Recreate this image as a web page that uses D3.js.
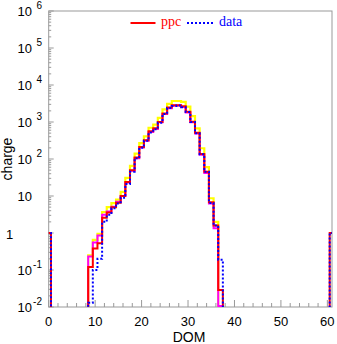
<!DOCTYPE html>
<html><head><meta charset="utf-8">
<script src="https://cdn.jsdelivr.net/npm/d3@7"></script>
<style>
html,body{margin:0;padding:0;background:#fff;}
svg{display:block;}
</style></head>
<body>
<script>
// DOM bins 0..61 (value 0 = empty bin)
const dom = d3.range(0, 62);
const ppc = [1,0,0,0,0,0,0,0,0,0.12,0.38,0.53,2.6,3.6,5.0,6.6,10,24,50,110,210,320,560,680,1000,1700,2450,2850,2850,2650,1900,1020,510,137,45,6.8,1.6,0.029,0,0,0,0,0,0,0,0,0,0,0,0,0,0,0,0,0,0,0,0,0,0,0,1];
const ppcHigh = [0,0,0,0,0,0,0,0,0,0.25,0.65,0.95,3.7,5.0,6.4,8.0,13,31,65,140,270,410,700,850,1300,2200,3100,3700,3700,3500,2600,1450,675,195,60,8.7,2.0,0,0,0,0,0,0,0,0,0,0,0,0,0,0,0,0,0,0,0,0,0,0,0,0,0];
const ppcMid = [0,0,0,0,0,0,0,0,0,0.23,0.55,0.85,3.1,3.8,5.1,7.0,10,23,48,105,205,310,540,650,980,1650,2350,2750,2800,2550,1800,980,490,130,42,6.3,1.35,0.0107,0,0,0,0,0,0,0,0,0,0,0,0,0,0,0,0,0,0,0,0,0,0,0,0];
const data = [1,0,0,0,0,0,0,0,0,0.013,0.1,0.2,2.0,3.1,4.7,6.3,9,21,45,105,200,310,520,640,950,1650,2400,2700,2800,2500,1850,1000,500,135,45,6.5,1.6,0.19,0,0,0,0,0,0,0,0,0,0,0,0,0,0,0,0,0,0,0,0,0,0,0,1];
const xTicks = [0,10,20,30,40,50,60];
const yExps = [-2,-1,0,1,2,3,4,5,6];
const legendLabels = ["ppc","data"];

const W=337,H=344;
const L=48.7,R=332,T=11,B=307;
const svg=d3.select("body").append("svg").attr("width",W).attr("height",H);
const x=d3.scaleLinear().domain([0,61]).range([L,R]);
const y=d3.scaleLog().domain([1e-2,1e6]).range([B,T]);
const axisCol="#999";

svg.append("clipPath").attr("id","c").append("rect").attr("x",L).attr("y",T).attr("width",R-L).attr("height",B-T);

// frame
svg.append("rect").attr("x",L).attr("y",T).attr("width",R-L).attr("height",B-T).attr("fill","none").attr("stroke",axisCol).attr("stroke-width",1);

// y ticks
const yMinor=[];
for(let e=-2;e<6;e++){for(let k=2;k<=9;k++){yMinor.push(k*Math.pow(10,e));}}
svg.append("g").selectAll("line.ym").data(yMinor).join("line")
 .attr("x1",L).attr("x2",L+2.5).attr("y1",d=>y(d)).attr("y2",d=>y(d)).attr("stroke",axisCol);
svg.append("g").selectAll("line.yM").data(yExps).join("line")
 .attr("x1",L).attr("x2",L+5).attr("y1",d=>y(Math.pow(10,d))).attr("y2",d=>y(Math.pow(10,d))).attr("stroke",axisCol);

// x ticks
const xMinor=d3.range(0,61,2).filter(v=>v%10!==0);
svg.append("g").selectAll("line").data(xMinor).join("line")
 .attr("x1",d=>x(d)).attr("x2",d=>x(d)).attr("y1",B).attr("y2",B-4).attr("stroke",axisCol);
svg.append("g").selectAll("line").data(xTicks).join("line")
 .attr("x1",d=>x(d)).attr("x2",d=>x(d)).attr("y1",B).attr("y2",B-7).attr("stroke",axisCol);

const sans="'Liberation Sans',Arial,Helvetica,sans-serif";
const serif="'Liberation Serif','Times New Roman',serif";

// x labels
svg.append("g").selectAll("text").data(xTicks).join("text")
 .attr("x",d=>x(d)).attr("y",325.5).attr("text-anchor","middle")
 .attr("font-family",sans).attr("font-size",13).text(d=>d);

// y labels
const yl=svg.append("g").attr("font-family",sans);
yExps.forEach(e=>{
  const ty=y(Math.pow(10,e));
  if(e===0){
    yl.append("text").attr("x",9.5).attr("y",ty+5.5).attr("text-anchor","middle").attr("font-size",13).text("1");
  } else {
    yl.append("text").attr("x",32).attr("y",ty+5).attr("text-anchor","end").attr("font-size",13).text("10");
    if(e!==1){
      yl.append("text").attr("x",42).attr("y",ty-2.3).attr("text-anchor","end").attr("font-size",10).text(e);
    }
  }
});

// titles
svg.append("text").attr("x",189).attr("y",341.5).attr("text-anchor","middle").attr("font-family",sans).attr("font-size",14).text("DOM");
svg.append("text").attr("transform","translate(11.5,159) rotate(-90)").attr("text-anchor","middle").attr("font-family",sans).attr("font-size",14).text("charge");

// histograms
function stepPath(vals){
  const yy=v=>v>0?y(v):B+12;
  let p="M"+x(dom[0]-0.5)+","+yy(vals[0]);
  for(let i=0;i<dom.length;i++){
    p+="H"+x(dom[i]+0.5);
    if(i+1<dom.length) p+="V"+yy(vals[i+1]);
  }
  return p;
}
const hg=svg.append("g").attr("clip-path","url(#c)").attr("fill","none");
hg.append("path").attr("d",stepPath(ppcHigh)).attr("stroke","#ffff00").attr("stroke-width",2.2);
hg.append("path").attr("d",stepPath(ppcMid)).attr("stroke","#ff00ff").attr("stroke-width",2);
hg.append("path").attr("d",stepPath(ppc)).attr("stroke","#ff0000").attr("stroke-width",2);
hg.append("path").attr("d",stepPath(data)).attr("stroke","#0000ff").attr("stroke-width",2).attr("stroke-dasharray","2,2");

// legend
const lg=svg.append("g");
lg.append("line").attr("x1",130.5).attr("x2",155.5).attr("y1",23).attr("y2",23).attr("stroke","#ff0000").attr("stroke-width",2);
lg.append("text").attr("x",161).attr("y",25.5).attr("font-family",serif).attr("font-size",14).attr("fill","#ff0000").text(legendLabels[0]);
lg.append("line").attr("x1",187).attr("x2",214).attr("y1",23).attr("y2",23).attr("stroke","#0000ff").attr("stroke-width",2).attr("stroke-dasharray","2,2");
lg.append("text").attr("x",219).attr("y",25.5).attr("font-family",serif).attr("font-size",14).attr("fill","#0000ff").text(legendLabels[1]);
</script>
</body></html>
